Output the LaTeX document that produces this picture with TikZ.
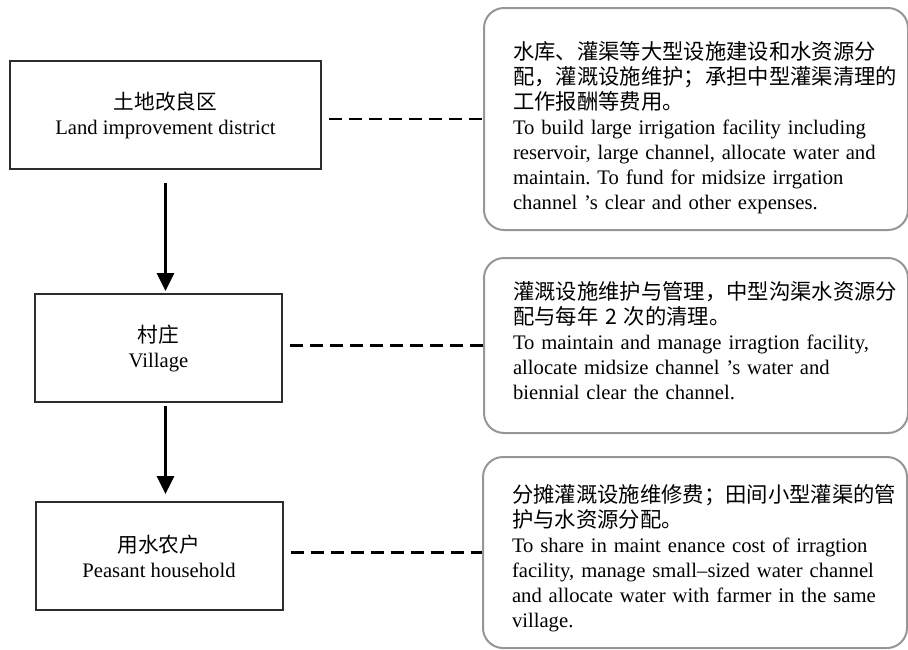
\documentclass[tikz,border=0pt]{standalone}
\usepackage{fontspec}
\setmainfont{Liberation Serif}
\newfontfamily\cjk{Noto Sans CJK SC}
\usetikzlibrary{arrows.meta}
\usepackage{xcolor}
\definecolor{boxline}{RGB}{45,45,45}
\definecolor{noteline}{RGB}{150,150,150}
\newcommand{\zh}[1]{{\fontsize{16pt}{18.75pt}\cjk #1}}
\newcommand{\padtop}[1]{\rule{0pt}{#1}}
\newcommand{\padbot}[1]{\rule[-#1]{0pt}{#1}}
\frenchspacing

\begin{document}
\begin{tikzpicture}[x=0.75pt,y=0.75pt,yscale=-1,xscale=1,
  levelbox/.style={draw=boxline,line width=1.5pt,align=center,minimum height=81pt,inner sep=0pt,font=\fontsize{15.5pt}{18.75pt}\selectfont},
  notebox/.style={draw=noteline,line width=1.5pt,rounded corners=15pt,anchor=west,align=left,text width=274.5pt,inner xsep=21.75pt,font=\fontsize{15.5pt}{18.75pt}\selectfont},
  linkline/.style={line width=1.8pt,dash pattern=on 9.75pt off 5.25pt,shorten <=5.5pt},
  flowarrow/.style={line width=1.8pt,-{Triangle[length=13.5pt,width=13pt]}}]
\useasboundingbox (0,0) rectangle (908,650);

%Shape: Rectangle
\node [levelbox,minimum width=233.25pt] (lid) at (165.5,115) {{\cjk 土地改良区}\\Land improvement district};
%Shape: Rectangle
\node [levelbox,minimum width=185.25pt] (village) at (158.5,348) {{\cjk 村庄}\\Village};
%Shape: Rectangle
\node [levelbox,minimum width=185.25pt] (household) at (159,556) {{\cjk 用水农户}\\Peasant household};

%Shape: Rounded Rect
\node [notebox,minimum height=166.5pt] (lidnote) at (483,119) {\zh{\padtop{26pt}水库、灌渠等大型设施建设和水资源分}\\
\zh{配，灌溉设施维护；承担中型灌渠清理的}\\
\zh{工作报酬等费用。}\\
To build large irrigation facility including\\
reservoir, large channel, allocate water and\\
maintain. To fund for midsize irrgation\\
channel ’s clear and other expenses.};
%Shape: Rounded Rect
\node [notebox,minimum height=131.25pt] (villagenote) at (483,345.5) {\zh{灌溉设施维护与管理，中型沟渠水资源分}\\
\zh{配与每年 2 次的清理。}\\
To maintain and manage irragtion facility,\\
allocate midsize channel ’s water and\\
biennial clear the channel.\padbot{8pt}};
%Shape: Rounded Rect
\node [notebox,minimum height=143.25pt] (householdnote) at (482,552.5) {\zh{\padtop{21.5pt}分摊灌溉设施维修费；田间小型灌渠的管}\\
\zh{护与水资源分配。}\\
To share in maint enance cost of irragtion\\
facility, manage small–sized water channel\\
and allocate water with farmer in the same\\
village.};

%Straight Lines
\draw [flowarrow,shorten <=9.75pt,shorten >=1.5pt] (lid.south) -- (lid.south |- village.north);
\draw [flowarrow,shorten <=2.25pt,shorten >=5.25pt] (village.south -| lid.south) -- (lid.south |- household.north);

%Straight Lines
\draw [linkline] (lidnote.west -| lid.east) -- (lidnote.west);
\draw [linkline] (villagenote.west -| village.east) -- (villagenote.west);
\draw [linkline] (householdnote.west -| household.east) -- (householdnote.west);

\end{tikzpicture}
\end{document}
